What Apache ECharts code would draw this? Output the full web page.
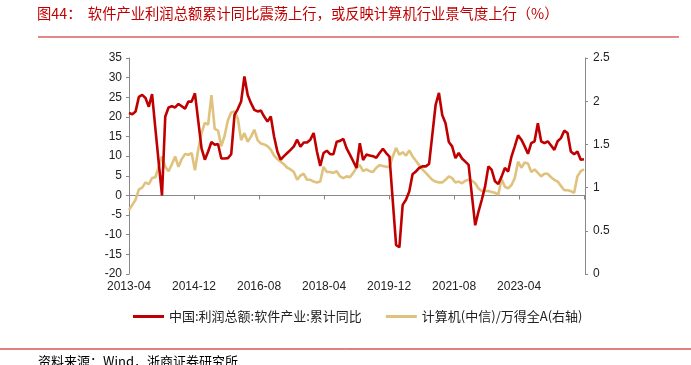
<!DOCTYPE html>
<html>
<head>
<meta charset="utf-8">
<script src="https://cdn.jsdelivr.net/npm/echarts@6/dist/echarts.min.js"></script>
<style>
    html, body { margin: 0; padding: 0; background: #fff; }
    #chart { width: 691px; height: 365px; }
</style>
</head>
<body>
<div id="chart"></div>
<script>
// 月度数据，从 2013-04 开始（索引 0），共 139 个月
var tickLabels = ['2013-04', '2014-12', '2016-08', '2018-04', '2019-12', '2021-08', '2023-04'];

// 中国:利润总额:软件产业:累计同比 (%)
var profitYoY = [
    21.0, 20.7, 21.4, 25.1, 25.6, 24.8, 22.6, 25.8, 17.0, 8.5,
    0, 20.1, 22.4, 22.7, 22.4, 23.3, 22.7, 22.1, 23.9, 23.9,
    26.0, 19.0, 12.0, 9.1, 11.2, 13.6, 12.9, 13.1, 9.4, 9.4,
    9.5, 10.5, 20.5, 22.0, 23.9, 30.3, 25.6, 23.5, 21.8, 21.4,
    21.6, 20.1, 18.8, 20.1, 15.0, 11.2, 9.1, 10.0, 10.8, 11.6,
    12.5, 14.2, 12.4, 13.5, 13.5, 14.2, 15.9, 11.2, 7.5, 10.8,
    11.4, 10.5, 10.5, 13.7, 13.9, 14.4, 12.0, 10.4, 8.7, 7.0,
    13.3, 9.0, 10.4, 10.2, 10.0, 9.6, 10.8, 11.9, 10.8, 9.9,
    -1.4, -12.6, -13.2, -2.4, -1.1, 1.0, 5.4, 6.1, 7.0, 7.4,
    7.4, 8.0, 15.5, 23.1, 26.1, 20.5, 18.4, 13.6, 12.5, 9.5,
    10.8, 9.4, 8.6, 7.8, 0.0, -7.6, -4.1, -1.1, 2.3, 7.4,
    6.5, 3.6, 2.9, 4.8, 7.0, 6.1, 9.9, 12.5, 15.3, 14.2,
    12.5, 10.6, 13.3, 13.8, 18.4, 13.8, 13.3, 13.8, 12.7, 11.6,
    13.8, 14.6, 16.5, 15.9, 11.2, 10.5, 11.2, 9.1, 9.2
];

// 计算机(中信)/万得全A (右轴)
var relStrength = [
    0.74, 0.80, 0.86, 0.98, 1.00, 1.06, 1.04, 1.11, 1.12, 1.24,
    1.36, 1.24, 1.19, 1.27, 1.36, 1.24, 1.33, 1.39, 1.38, 1.40,
    1.20, 1.44, 1.63, 1.75, 1.73, 2.07, 1.68, 1.66, 1.48, 1.60,
    1.78, 1.87, 1.88, 1.80, 1.55, 1.63, 1.53, 1.59, 1.67, 1.55,
    1.51, 1.50, 1.48, 1.44, 1.37, 1.33, 1.30, 1.27, 1.23, 1.21,
    1.18, 1.09, 1.14, 1.16, 1.09, 1.09, 1.07, 1.06, 1.07, 1.24,
    1.18, 1.18, 1.17, 1.19, 1.13, 1.11, 1.13, 1.12, 1.17, 1.23,
    1.26, 1.19, 1.21, 1.19, 1.18, 1.23, 1.26, 1.25, 1.24, 1.24,
    1.36, 1.46, 1.38, 1.41, 1.37, 1.43, 1.36, 1.31, 1.26, 1.21,
    1.17, 1.13, 1.09, 1.07, 1.06, 1.06, 1.09, 1.13, 1.11, 1.06,
    1.07, 1.05, 1.08, 1.09, 1.08, 1.05, 0.99, 0.96, 0.96, 0.96,
    0.95, 0.94, 0.92, 1.10, 1.01, 0.99, 1.03, 1.11, 1.30, 1.23,
    1.29, 1.28, 1.18, 1.21, 1.17, 1.13, 1.16, 1.16, 1.12, 1.09,
    1.07, 1.02, 0.97, 0.97, 0.96, 0.94, 1.13, 1.19, 1.21
];

var seriesNames = ['中国:利润总额:软件产业:累计同比', '计算机(中信)/万得全A(右轴)'];

var xMax = 138.3;      // 横轴范围（月序号）
var xInterval = 19.72; // 刻度间隔（原图日期轴约 600 天一格）

var chart = echarts.init(document.getElementById('chart'));

function toPairs(arr) {
    return arr.map(function (v, i) { return [i, v]; });
}

var axisColor = '#888';
var labelFont = { fontFamily: 'Liberation Sans, Arial', fontSize: 12, color: '#222' };

var option = {
    animation: false,
    title: [
        {
            text: '图44：  软件产业利润总额累计同比震荡上行，或反映计算机行业景气度上行（%）',
            left: 37,
            top: 6,
            padding: 0,
            textStyle: { fontFamily: 'Noto Sans CJK SC', fontSize: 14.3, fontWeight: 'normal', color: '#c00000' }
        },
        {
            text: '资料来源：Wind，浙商证券研究所',
            left: 38,
            top: 355,
            padding: 0,
            textStyle: { fontFamily: 'Noto Sans CJK SC', fontSize: 13, fontWeight: 'normal', color: '#000' }
        }
    ],
    graphic: [
        { type: 'line', shape: { x1: 38, y1: 37, x2: 679, y2: 37 }, style: { stroke: '#e08a8a', lineWidth: 2 } },
        { type: 'line', shape: { x1: 0, y1: 349, x2: 691, y2: 349 }, style: { stroke: '#c00000', lineWidth: 1 } }
    ],
    legend: {
        left: 128,
        top: 305,
        itemWidth: 31,
        itemHeight: 3,
        itemGap: 24,
        icon: 'rect',
        textStyle: { fontFamily: 'Noto Sans CJK SC', fontSize: 13, color: '#222' },
        data: seriesNames
    },
    grid: { left: 129, right: 106, top: 58, bottom: 91 },
    xAxis: [
        {
            type: 'value',
            min: 0,
            max: xMax,
            interval: xInterval,
            axisLine: { show: false, onZero: false },
            axisTick: { show: false },
            splitLine: { show: false },
            axisLabel: Object.assign({
                margin: 7,
                showMaxLabel: false,
                formatter: function (value) {
                    return tickLabels[Math.round(value / xInterval)] || '';
                }
            }, labelFont)
        },
        {
            type: 'value',
            position: 'bottom',
            min: 0,
            max: xMax,
            interval: xInterval,
            axisLine: { show: true, onZero: true, onZeroAxisIndex: 0, lineStyle: { color: axisColor, width: 1 } },
            axisTick: { show: true, length: 4, lineStyle: { color: axisColor } },
            axisLabel: { show: false },
            splitLine: { show: false }
        }
    ],
    yAxis: [
        {
            type: 'value',
            min: -20,
            max: 35,
            interval: 5,
            axisLine: { show: true, onZero: false, lineStyle: { color: axisColor } },
            axisTick: { show: true, length: 3, lineStyle: { color: axisColor } },
            splitLine: { show: false },
            axisLabel: Object.assign({ margin: 7 }, labelFont)
        },
        {
            type: 'value',
            position: 'right',
            min: 0,
            max: 2.5,
            interval: 0.5,
            axisLine: { show: true, onZero: false, lineStyle: { color: axisColor } },
            axisTick: { show: true, length: 3, lineStyle: { color: axisColor } },
            splitLine: { show: false },
            axisLabel: Object.assign({ margin: 8 }, labelFont)
        }
    ],
    series: [
        {
            name: seriesNames[0],
            type: 'line',
            xAxisIndex: 0,
            yAxisIndex: 0,
            data: toPairs(profitYoY),
            showSymbol: false,
            symbol: 'none',
            color: '#c00000',
            lineStyle: { width: 2.6, color: '#c00000' },
            z: 3
        },
        {
            name: seriesNames[1],
            type: 'line',
            xAxisIndex: 0,
            yAxisIndex: 1,
            data: toPairs(relStrength),
            showSymbol: false,
            symbol: 'none',
            color: '#dfc27d',
            lineStyle: { width: 2.6, color: '#dfc27d' },
            z: 2
        }
    ]
};

chart.setOption(option);
</script>
</body>
</html>
